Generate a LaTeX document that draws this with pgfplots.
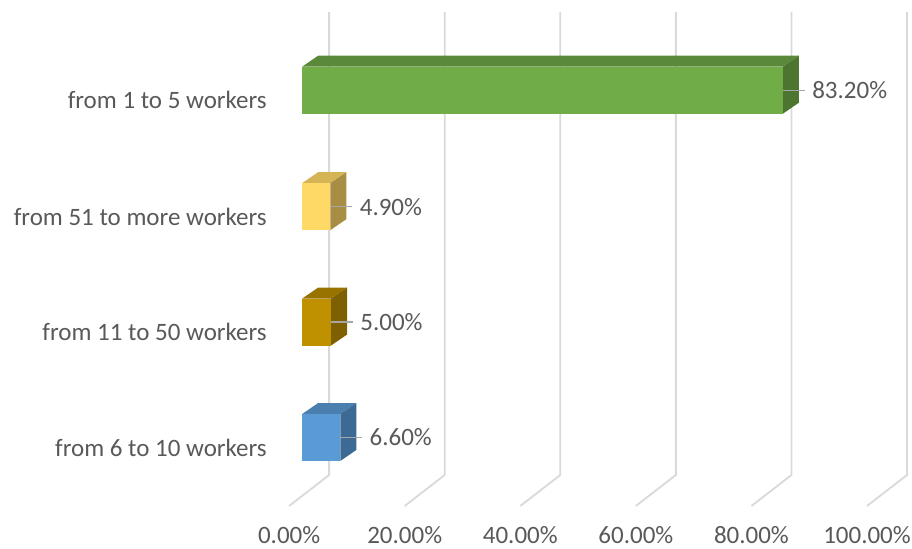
\documentclass[border=0pt]{standalone}
\usepackage{pgfplots}
\pgfplotsset{compat=1.18}
\usepackage{fontspec}
\setmainfont{Carlito}
\definecolor{txt}{HTML}{595959}
\definecolor{gridc}{HTML}{D9D9D9}
\definecolor{leadc}{HTML}{A6A6A6}
\definecolor{gF}{HTML}{70AD47}\definecolor{gT}{HTML}{5A8A39}\definecolor{gS}{HTML}{4C7530}
\definecolor{yF}{HTML}{FFD966}\definecolor{yT}{HTML}{D4B455}\definecolor{yS}{HTML}{A88E45}
\definecolor{bF}{HTML}{BF9000}\definecolor{bT}{HTML}{997300}\definecolor{bS}{HTML}{7F6000}
\definecolor{uF}{HTML}{5B9BD5}\definecolor{uT}{HTML}{4A7FB0}\definecolor{uS}{HTML}{3D6A94}
\begin{document}
\begin{tikzpicture}
\begin{axis}[
  scale only axis, width=456pt, height=274pt,
  xmin=-52.25, xmax=105.5, ymin=0, ymax=548,
  clip=false, axis line style={draw=none}, major tick length=0pt,
  /pgf/number format/assume math mode=true,
  xtick={-2.25,17.75,37.75,57.75,77.75,97.75},
  xticklabels={0.00\%,20.00\%,40.00\%,60.00\%,80.00\%,100.00\%},
  xticklabel style={anchor=center, yshift=6.5pt, inner sep=0pt, font=\fontsize{12.5pt}{14pt}\selectfont, text=txt},
  ytick={100.5,216,331.5,448},
  yticklabels={from 6 to 10 workers,from 11 to 50 workers,from 51 to more workers,from 1 to 5 workers},
  yticklabel style={anchor=east, xshift=133.5pt, inner sep=0pt, font=\fontsize{12.5pt}{14pt}\selectfont, text=txt},
]
% gridlines (back wall + floor)
\addplot[color=gridc, line width=0.9pt, forget plot] coordinates {(4.67,536)(4.67,73)(-2.25,42)};
\addplot[color=gridc, line width=0.9pt, forget plot] coordinates {(24.67,536)(24.67,73)(17.75,42)};
\addplot[color=gridc, line width=0.9pt, forget plot] coordinates {(44.67,536)(44.67,73)(37.75,42)};
\addplot[color=gridc, line width=0.9pt, forget plot] coordinates {(64.67,536)(64.67,73)(57.75,42)};
\addplot[color=gridc, line width=0.9pt, forget plot] coordinates {(84.67,536)(84.67,73)(77.75,42)};
\addplot[color=gridc, line width=0.9pt, forget plot] coordinates {(104.67,536)(104.67,73)(97.75,42)};
% top and side faces
\addplot[fill=gT, draw=none, forget plot] coordinates {(0,481.5)(83.2,481.5)(85.97,492.5)(2.77,492.5)} -- cycle;
\addplot[fill=gS, draw=none, forget plot] coordinates {(83.2,481.5)(85.97,492.5)(85.97,445.5)(83.2,434.5)} -- cycle;
\addplot[fill=yT, draw=none, forget plot] coordinates {(0,365)(4.9,365)(7.67,376)(2.77,376)} -- cycle;
\addplot[fill=yS, draw=none, forget plot] coordinates {(4.9,365)(7.67,376)(7.67,329)(4.9,318)} -- cycle;
\addplot[fill=bT, draw=none, forget plot] coordinates {(0,249.5)(5,249.5)(7.77,260.5)(2.77,260.5)} -- cycle;
\addplot[fill=bS, draw=none, forget plot] coordinates {(5,249.5)(7.77,260.5)(7.77,213.5)(5,202.5)} -- cycle;
\addplot[fill=uT, draw=none, forget plot] coordinates {(0,134)(6.6,134)(9.37,145)(2.77,145)} -- cycle;
\addplot[fill=uS, draw=none, forget plot] coordinates {(6.6,134)(9.37,145)(9.37,98)(6.6,87)} -- cycle;
% front faces with data labels
\pgfplotsset{frontbar/.style={xbar, bar width=23.5pt, bar shift=0pt, draw=none, forget plot,
  nodes near coords={\pgfmathprintnumber[fixed,fixed zerofill,precision=2]{\pgfplotspointmeta}\%},
  nodes near coords style={anchor=west, xshift=14.5pt, inner sep=0pt, text=txt, font=\fontsize{12.5pt}{14pt}\selectfont},
  point meta=x}}
\addplot[frontbar, fill=gF] coordinates {(83.2,458)};
\addplot[frontbar, fill=yF] coordinates {(4.9,341.5)};
\addplot[frontbar, fill=bF] coordinates {(5.0,226)};
\addplot[frontbar, fill=uF] coordinates {(6.6,110.5)};
% leader lines
\addplot[color=leadc, line width=0.6pt, forget plot] coordinates {(83.2,458)(87.0,458)};
\addplot[color=leadc, line width=0.6pt, forget plot] coordinates {(4.9,341.5)(8.7,341.5)};
\addplot[color=leadc, line width=0.6pt, forget plot] coordinates {(5.0,226)(8.8,226)};
\addplot[color=leadc, line width=0.6pt, forget plot] coordinates {(6.6,110.5)(10.4,110.5)};
\end{axis}
\end{tikzpicture}
\end{document}
